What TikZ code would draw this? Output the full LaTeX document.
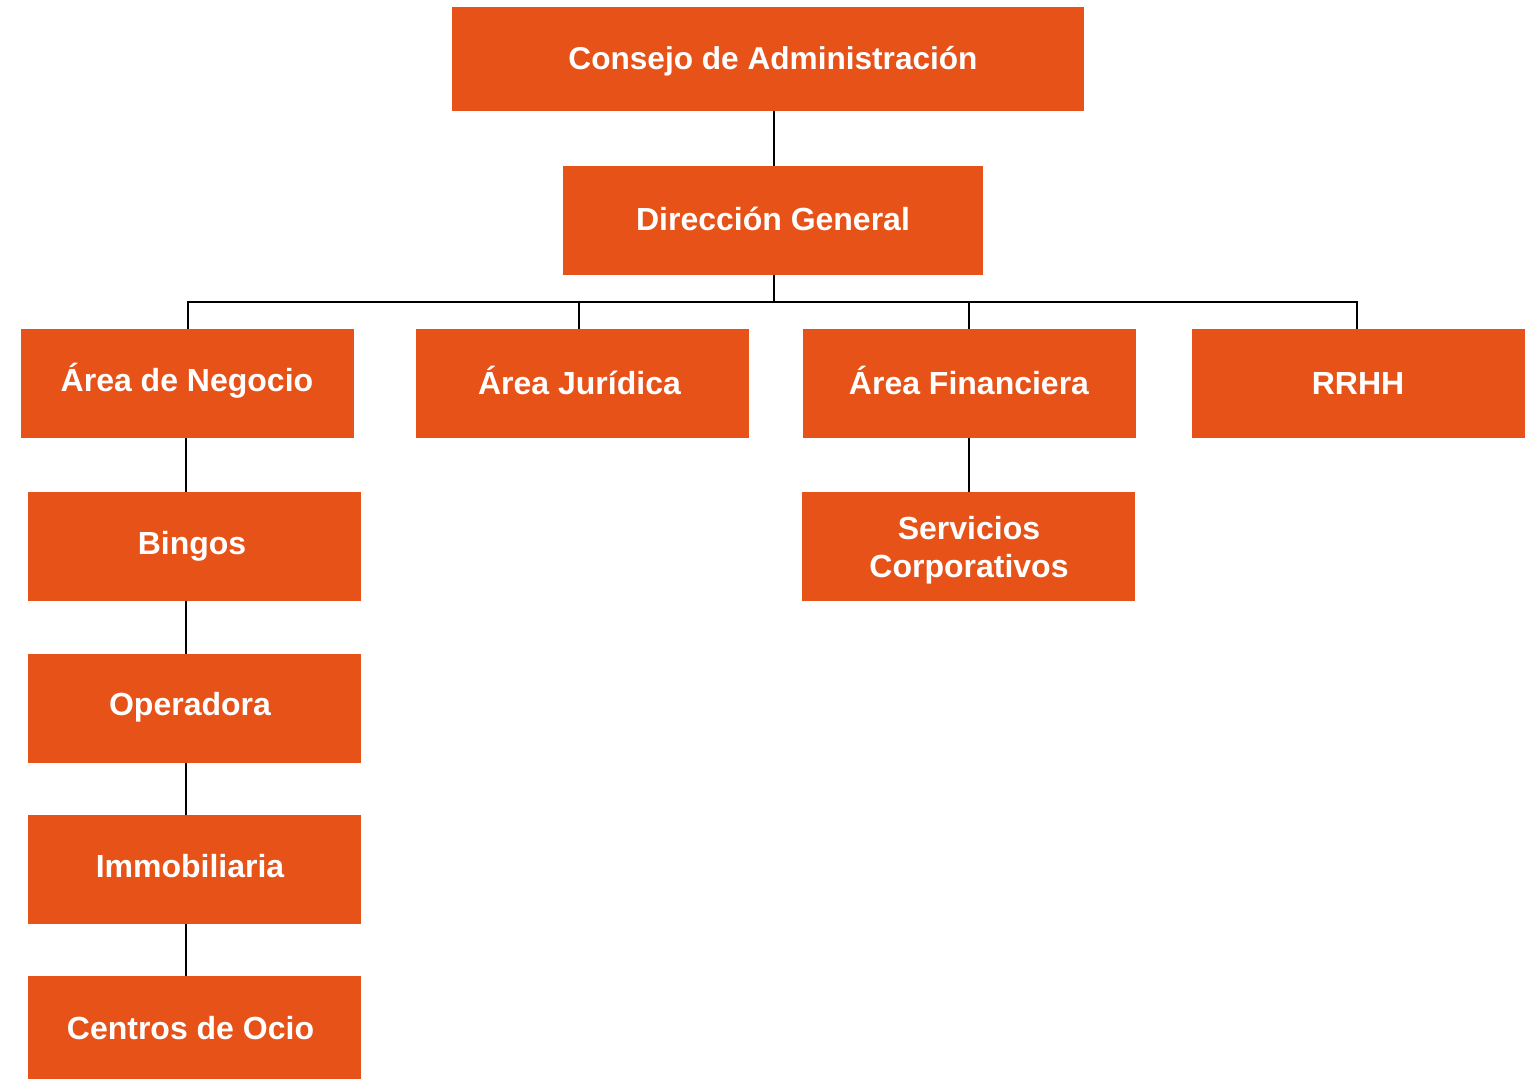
\documentclass[tikz,border=0pt]{standalone}
\usepackage{fontspec}
\setmainfont{Liberation Sans}
\definecolor{orgbox}{HTML}{E65218}
\begin{document}
\begin{tikzpicture}[x=0.5pt,y=-0.5pt,
  box/.style={fill=orgbox,draw=none,inner sep=0pt,minimum width=166.5pt,minimum height=54.5pt},
  lbl/.style={text=white,font=\bfseries\fontsize{16pt}{19pt}\selectfont,align=center,inner sep=0pt,text height=11.5pt,text depth=0pt},
  conn/.style={draw=black,line width=1pt}]
\useasboundingbox (0,0) rectangle (1530,1080);
\path[fill=white] (0,0) rectangle (1530,1080);
% boxes
\node[box,minimum width=316pt,minimum height=52pt] (cons) at (768,59) {};
\node[box,minimum width=210pt] (dg) at (773,220.5) {};
\node[box] (an) at (187.5,383.5) {};
\node[box] (aj) at (582.5,383.5) {};
\node[box] (af) at (969.5,383.5) {};
\node[box] (rh) at (1358.5,383.5) {};
\node[box] (bi) at (194.5,546.5) {};
\node[box] (sc) at (968.5,546.5) {};
\node[box] (op) at (194.5,708.5) {};
\node[box] (im) at (194.5,869.5) {};
\node[box,minimum height=51.5pt] (co) at (194.5,1027.5) {};
% labels
\node[lbl,font=\bfseries\fontsize{15.8pt}{19pt}\selectfont] (consT) at (773,58) {Consejo de Administración};
\node[lbl] (dgT) at (773,219) {Dirección General};
\node[lbl] (anT) at (187,380) {Área de Negocio};
\node[lbl] (ajT) at (579.5,383) {Área Jurídica};
\node[lbl] (afT) at (969,383) {Área Financiera};
\node[lbl] (rhT) at (1358,383) {RRHH};
\node[lbl] (biT) at (192,543) {Bingos};
\node[lbl] (scT) at (969,566) {Servicios\\Corporativos};
\node[lbl] (opT) at (190,704) {Operadora};
\node[lbl] (imT) at (190,866) {Immobiliaria};
\node[lbl] (coT) at (190.5,1028) {Centros de Ocio};
% connectors
\coordinate (bus) at (774,302);
\draw[conn] (cons.south -| 774,0) -- (dg.north -| 774,0);
\draw[conn] (dg.south -| 774,0) -- (bus);
\draw[conn] (bus) -- (188,302) -- (an.north -| 188,0);
\draw[conn] (bus) -| (579,329);
\draw[conn] (bus) -| (969,329);
\draw[conn] (bus) -- (1357,302) -- (rh.north -| 1357,0);
\draw[conn] (an.south -| 186,0) -- (bi.north -| 186,0);
\draw[conn] (bi.south -| 186,0) -- (op.north -| 186,0);
\draw[conn] (op.south -| 186,0) -- (im.north -| 186,0);
\draw[conn] (im.south -| 186,0) -- (co.north -| 186,0);
\draw[conn] (af.south -| 969,0) -- (sc.north -| 969,0);
\end{tikzpicture}
\end{document}
